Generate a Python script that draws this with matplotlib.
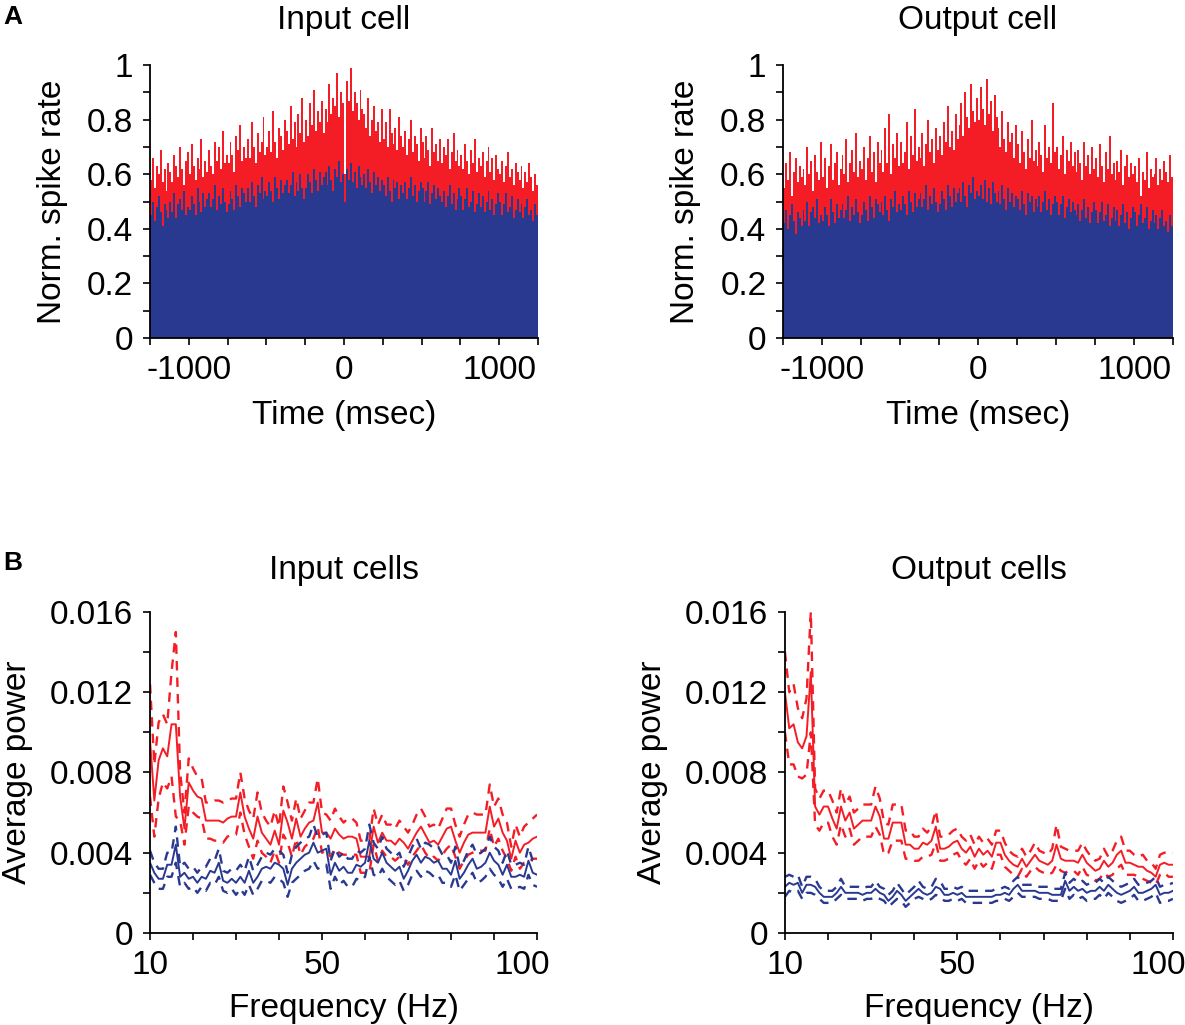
import numpy as np
import matplotlib
matplotlib.use('Agg')
import matplotlib.pyplot as plt
import matplotlib.transforms as mtransforms
from matplotlib.ticker import FixedLocator, FixedFormatter

plt.rcParams['font.family'] = ['Liberation Sans', 'DejaVu Sans']
plt.rcParams['axes.unicode_minus'] = False

RED = '#f51d25'
BLUE = '#2a3990'

# ---- panel A: normalised cross-correlograms (12.5 ms bins, -1250..1250 ms), in %
bin_ms = 12.5
bin_centers = np.arange(-1250 + bin_ms / 2, 1250, bin_ms)

input_red = [58, 66, 55, 63, 60, 69, 57, 62, 54, 64,
             61, 57, 67, 63, 59, 70, 62, 56, 65, 68,
             60, 71, 63, 58, 66, 62, 73, 59, 65, 61,
             69, 63, 60, 72, 65, 70, 62, 76, 64, 67,
             64, 72, 67, 61, 74, 69, 78, 65, 70, 66,
             73, 66, 79, 70, 64, 75, 68, 72, 81, 67,
             70, 76, 68, 83, 72, 66, 77, 74, 69, 80,
             76, 71, 85, 73, 79, 70, 82, 75, 88, 72,
             80, 74, 86, 78, 91, 76, 83, 79, 87, 75,
             84, 79, 93, 82, 88, 85, 97, 81, 90, 86,
             60, 94, 87, 99, 83, 90, 86, 80, 91, 84,
             82, 77, 88, 74, 80, 85, 76, 79, 72, 84,
             73, 79, 70, 84, 75, 71, 77, 69, 81, 74,
             70, 76, 67, 73, 80, 68, 74, 71, 65, 77,
             72, 66, 74, 69, 63, 77, 68, 71, 65, 73,
             64, 70, 67, 73, 62, 68, 75, 65, 69, 63,
             67, 62, 71, 65, 60, 69, 64, 73, 61, 66,
             63, 68, 59, 65, 70, 61, 66, 58, 67, 62,
             60, 65, 57, 63, 68, 59, 62, 56, 64, 61,
             58, 63, 55, 61, 57, 64, 59, 54, 60, 56]
input_blue = [45, 50, 43, 48, 52, 46, 41, 49, 47, 44,
              50, 46, 53, 44, 49, 51, 47, 54, 45, 48,
              47, 52, 49, 45, 55, 50, 46, 53, 48, 51,
              53, 48, 51, 56, 47, 52, 49, 55, 50, 46,
              49, 54, 51, 47, 56, 52, 48, 55, 53, 50,
              55, 50, 57, 52, 48, 56, 53, 59, 51, 54,
              52, 57, 54, 50, 59, 55, 51, 58, 53, 56,
              58, 53, 56, 61, 52, 57, 54, 60, 55, 51,
              55, 60, 57, 53, 62, 58, 54, 61, 56, 59,
              61, 56, 63, 58, 54, 62, 59, 65, 57, 60,
              50, 62, 58, 64, 57, 61, 55, 63, 59, 56,
              60, 55, 62, 57, 53, 61, 56, 59, 54, 58,
              56, 52, 59, 54, 50, 58, 55, 57, 51, 56,
              53, 57, 51, 55, 59, 52, 56, 50, 54, 57,
              55, 50, 54, 57, 49, 53, 56, 51, 55, 52,
              50, 54, 48, 52, 56, 49, 53, 47, 51, 55,
              52, 47, 51, 55, 48, 50, 54, 46, 49, 53,
              48, 52, 46, 50, 54, 47, 51, 45, 49, 53,
              50, 45, 49, 53, 46, 48, 52, 44, 47, 51,
              46, 49, 44, 48, 51, 45, 47, 43, 49, 45]
output_red = [55, 64, 58, 68, 52, 61, 66, 57, 63, 59,
              62, 56, 70, 60, 65, 54, 67, 61, 58, 72,
              59, 66, 55, 63, 71, 58, 64, 68, 56, 62,
              67, 60, 73, 57, 64, 69, 61, 75, 59, 65,
              62, 70, 58, 66, 74, 61, 68, 57, 72, 64,
              69, 61, 77, 64, 82, 60, 71, 66, 75, 63,
              72, 64, 68, 79, 62, 74, 67, 84, 65, 70,
              66, 75, 63, 71, 80, 68, 73, 64, 77, 69,
              74, 67, 79, 72, 85, 70, 76, 69, 82, 73,
              78, 86, 74, 90, 81, 77, 93, 83, 79, 88,
              80, 92, 84, 78, 95, 82, 87, 76, 89, 81,
              77, 70, 83, 73, 68, 79, 72, 75, 66, 78,
              71, 64, 76, 68, 62, 73, 66, 80, 65, 69,
              63, 72, 67, 61, 78, 66, 70, 64, 86, 68,
              70, 62, 67, 74, 60, 69, 65, 72, 63, 68,
              61, 69, 64, 58, 72, 63, 67, 60, 70, 62,
              66, 59, 71, 63, 57, 68, 62, 74, 60, 64,
              58, 65, 61, 69, 56, 63, 67, 59, 64, 60,
              63, 57, 66, 52, 61, 58, 68, 55, 62, 59,
              60, 66, 56, 62, 58, 65, 61, 57, 67, 59]
output_blue = [42, 47, 40, 45, 49, 43, 38, 46, 44, 41,
               47, 43, 50, 41, 46, 48, 44, 51, 42, 45,
               43, 48, 45, 41, 51, 46, 42, 49, 44, 47,
               49, 44, 47, 52, 43, 48, 45, 51, 46, 42,
               45, 50, 47, 43, 52, 48, 44, 51, 49, 46,
               50, 45, 52, 47, 43, 51, 48, 54, 46, 49,
               47, 52, 49, 45, 54, 50, 46, 53, 48, 51,
               53, 48, 51, 56, 47, 52, 49, 55, 50, 46,
               49, 54, 51, 47, 56, 52, 48, 55, 50, 53,
               55, 50, 57, 52, 48, 56, 53, 59, 51, 54,
               52, 56, 51, 58, 50, 55, 49, 57, 53, 50,
               54, 49, 56, 51, 47, 55, 50, 53, 48, 52,
               51, 47, 54, 49, 45, 53, 50, 52, 46, 51,
               48, 52, 46, 50, 54, 47, 51, 45, 49, 52,
               50, 45, 49, 52, 44, 48, 51, 46, 50, 47,
               45, 49, 43, 47, 51, 44, 48, 42, 46, 50,
               47, 42, 46, 50, 43, 45, 49, 41, 44, 48,
               43, 47, 41, 45, 49, 42, 46, 40, 44, 48,
               46, 41, 45, 49, 42, 44, 48, 40, 43, 47,
               42, 45, 40, 44, 47, 41, 43, 39, 45, 41]

# ---- panel B: average power spectra, mean and SEM (units of 1e-4) ----
freqs = np.arange(10, 101)

in_red_mean = [96, 66, 86, 92, 88, 104, 104, 68, 52, 75,
               71, 68, 67, 56, 56, 56, 56, 55, 57, 58,
               58, 70, 58, 52, 47, 58, 50, 47, 44, 51,
               44, 61, 55, 47, 57, 48, 52, 55, 56, 65,
               50, 50, 47, 52, 49, 47, 48, 48, 47, 38,
               38, 38, 53, 45, 50, 46, 46, 44, 47, 45,
               42, 46, 50, 53, 49, 45, 46, 44, 48, 52,
               53, 46, 40, 45, 49, 50, 50, 50, 50, 63,
               53, 57, 50, 46, 37, 46, 40, 44, 45, 47, 48]
in_red_sem = [28, 18, 19, 17, 16, 26, 46, 12, 8, 12,
              11, 10, 10, 9, 9, 10, 10, 10, 9, 9,
              9, 10, 9, 9, 10, 12, 10, 9, 9, 10,
              9, 12, 10, 9, 10, 9, 9, 10, 9, 12,
              10, 9, 9, 10, 9, 8, 9, 9, 8, 8,
              8, 8, 9, 9, 9, 8, 8, 8, 9, 8,
              8, 8, 9, 9, 9, 8, 8, 8, 9, 10,
              9, 8, 8, 9, 10, 10, 9, 9, 9, 11,
              10, 10, 9, 9, 6, 8, 8, 9, 10, 10, 11]
in_blue_mean = [35, 30, 27, 27, 34, 34, 44, 28, 30, 27,
                28, 25, 28, 27, 31, 30, 35, 26, 25, 27,
                25, 28, 25, 31, 25, 28, 32, 33, 32, 35,
                34, 32, 24, 32, 35, 37, 39, 40, 45, 40,
                41, 42, 29, 35, 31, 33, 30, 30, 34, 33,
                35, 46, 37, 35, 40, 35, 33, 31, 33, 27,
                31, 36, 39, 35, 38, 37, 35, 36, 32, 32,
                29, 36, 27, 30, 34, 37, 32, 33, 35, 40,
                36, 34, 29, 34, 28, 28, 29, 28, 36, 30, 29]
in_blue_sem = [6, 5, 5, 5, 6, 6, 9, 5, 5, 5,
               5, 5, 5, 6, 6, 6, 7, 5, 5, 5,
               6, 6, 6, 7, 6, 6, 6, 7, 7, 7,
               7, 7, 6, 7, 8, 8, 8, 8, 9, 8,
               8, 8, 7, 7, 7, 7, 7, 7, 7, 7,
               7, 8, 8, 7, 8, 7, 7, 7, 7, 6,
               7, 7, 8, 7, 7, 7, 7, 7, 7, 7,
               6, 7, 6, 6, 7, 7, 7, 7, 7, 8,
               7, 7, 6, 7, 6, 6, 6, 6, 7, 6, 6]

out_red_mean = [120, 102, 104, 95, 92, 98, 130, 63, 59, 63,
                63, 57, 52, 63, 56, 60, 52, 54, 56, 56,
                56, 63, 58, 47, 47, 55, 55, 55, 44, 44,
                42, 42, 45, 44, 46, 53, 42, 42, 43, 45,
                46, 42, 40, 43, 38, 42, 39, 41, 38, 45,
                45, 39, 36, 34, 33, 37, 33, 36, 39, 36,
                35, 34, 36, 44, 37, 36, 36, 36, 35, 39,
                35, 33, 31, 32, 36, 33, 35, 39, 41, 35,
                35, 34, 33, 33, 31, 30, 28, 34, 35, 34, 34]
out_red_sem = [20, 18, 20, 17, 15, 19, 30, 9, 8, 8,
               8, 9, 8, 9, 8, 8, 8, 8, 8, 8,
               8, 10, 9, 8, 7, 9, 9, 9, 7, 7,
               6, 6, 7, 6, 7, 8, 6, 6, 6, 6,
               6, 6, 6, 6, 6, 6, 6, 6, 6, 6,
               6, 6, 5, 5, 5, 5, 5, 5, 6, 5,
               5, 5, 6, 10, 6, 6, 5, 5, 6, 6,
               6, 5, 5, 5, 6, 5, 6, 7, 7, 6,
               6, 5, 5, 6, 5, 5, 4, 5, 5, 6, 6]
out_blue_mean = [23, 25, 24, 25, 20, 24, 24, 23, 20, 18,
                 18, 18, 20, 23, 20, 20, 20, 20, 19, 20,
                 20, 22, 20, 19, 16, 18, 21, 19, 16, 18,
                 20, 22, 20, 19, 20, 23, 22, 19, 19, 20,
                 19, 20, 18, 18, 18, 18, 18, 18, 18, 19,
                 19, 20, 19, 22, 24, 21, 21, 21, 21, 20,
                 20, 20, 19, 19, 19, 26, 21, 23, 21, 22,
                 20, 21, 21, 23, 21, 24, 22, 20, 19, 20,
                 21, 23, 20, 20, 21, 22, 24, 19, 20, 20, 21]
out_blue_sem = [5, 4, 4, 4, 3, 4, 4, 4, 3, 3,
                3, 3, 3, 4, 3, 3, 3, 3, 3, 3,
                3, 4, 3, 3, 3, 3, 4, 3, 3, 3,
                3, 4, 3, 3, 3, 4, 4, 3, 3, 3,
                3, 3, 3, 3, 3, 3, 3, 3, 3, 3,
                3, 3, 3, 4, 4, 3, 3, 3, 3, 3,
                3, 3, 3, 3, 3, 4, 4, 4, 4, 4,
                4, 4, 4, 4, 4, 4, 4, 4, 4, 4,
                4, 4, 4, 4, 4, 4, 4, 4, 4, 4, 4]


def style_axes(ax):
    for side in ['top', 'right']:
        ax.spines[side].set_visible(False)
    for side in ['left', 'bottom']:
        ax.spines[side].set_linewidth(1.3)
    ax.tick_params(which='both', direction='out', length=5, width=1.2,
                   labelsize=24, pad=7)


def draw_ccg(ax, red, blue, title):
    red = np.array(red) / 100.0
    blue = np.array(blue) / 100.0
    ax.bar(bin_centers, red, width=bin_ms, color=RED, linewidth=0)
    ax.bar(bin_centers, blue, width=bin_ms, color=BLUE, linewidth=0)
    ax.set_xlim(-1250, 1250)
    ax.set_ylim(0, 1)
    ax.xaxis.set_major_locator(FixedLocator([-1000, 0, 1000]))
    ax.xaxis.set_minor_locator(FixedLocator(np.arange(-1250, 1251, 250)))
    ax.yaxis.set_major_locator(FixedLocator([0, 0.2, 0.4, 0.6, 0.8, 1.0]))
    ax.yaxis.set_major_formatter(FixedFormatter(['0', '0.2', '0.4', '0.6', '0.8', '1']))
    ax.yaxis.set_minor_locator(FixedLocator(np.arange(0, 1.01, 0.1)))
    style_axes(ax)
    ax.set_xlabel('Time (msec)', fontsize=24, labelpad=10)
    ax.set_ylabel('Norm. spike rate', fontsize=24, labelpad=14)
    ax.set_title(title, fontsize=24, pad=26)


def draw_psd(ax, rm, rs, bm, bs, title):
    for mean, sem, col in [(rm, rs, RED), (bm, bs, BLUE)]:
        mean = np.array(mean) * 1e-4
        sem = np.array(sem) * 1e-4
        ax.plot(freqs, mean, color=col, lw=1.4)
        ax.plot(freqs, mean + sem, color=col, lw=1.7, ls=(0, (4, 3)))
        ax.plot(freqs, mean - sem, color=col, lw=1.7, ls=(0, (4, 3)))
    ax.set_xlim(10, 100)
    ax.set_ylim(0, 0.016)
    ax.xaxis.set_major_locator(FixedLocator([10, 50, 100]))
    ax.xaxis.set_minor_locator(FixedLocator(np.arange(10, 101, 10)))
    ax.yaxis.set_major_locator(FixedLocator([0, 0.004, 0.008, 0.012, 0.016]))
    ax.yaxis.set_major_formatter(FixedFormatter(['0', '0.004', '0.008', '0.012', '0.016']))
    ax.yaxis.set_minor_locator(FixedLocator(np.arange(0, 0.0161, 0.002)))
    style_axes(ax)
    ax.set_xlabel('Frequency (Hz)', fontsize=24, labelpad=9)
    ax.set_ylabel('Average power', fontsize=24, labelpad=12)
    ax.set_title(title, fontsize=24, pad=24)


fig = plt.figure(figsize=(11.85, 10.25), dpi=100)

ax1 = fig.add_axes([0.1266, 0.6702, 0.3274, 0.2663])
ax2 = fig.add_axes([0.6608, 0.6702, 0.3291, 0.2663])
ax3 = fig.add_axes([0.1266, 0.0898, 0.3266, 0.3132])
ax4 = fig.add_axes([0.6624, 0.0898, 0.3274, 0.3132])

draw_ccg(ax1, input_red, input_blue, 'Input cell')
draw_ccg(ax2, output_red, output_blue, 'Output cell')
draw_psd(ax3, in_red_mean, in_red_sem, in_blue_mean, in_blue_sem, 'Input cells')
draw_psd(ax4, out_red_mean, out_red_sem, out_blue_mean, out_blue_sem, 'Output cells')

# the "100" labels sit a little left of their tick, as in the original
shift = mtransforms.ScaledTranslation(-0.15, 0, fig.dpi_scale_trans)
for ax in (ax3, ax4):
    fig.canvas.draw()
    lab = ax.get_xticklabels()[-1]
    lab.set_transform(lab.get_transform() + shift)

fig.text(0.003, 0.995, 'A', fontsize=19, fontweight='bold', va='top')
fig.text(0.003, 0.462, 'B', fontsize=19, fontweight='bold', va='top')

fig.savefig('out.png', dpi=100)
